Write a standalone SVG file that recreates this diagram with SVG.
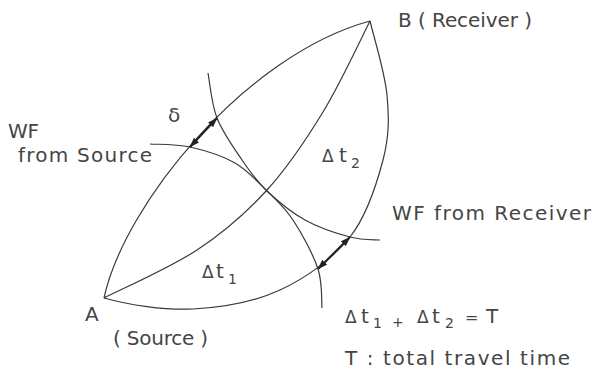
<svg xmlns="http://www.w3.org/2000/svg" width="594" height="369" viewBox="0 0 594 369">
<style>
.ray{fill:none;stroke:#3a3a3a;stroke-width:1.2}
.wf{fill:none;stroke:#3a3a3a;stroke-width:1.2}
.dl{fill:none;stroke:#222;stroke-width:2;marker-start:url(#ah);marker-end:url(#ah)}
text{font-family:"DejaVu Sans","Liberation Sans",sans-serif;font-size:20px;fill:#454545}
.sub{font-size:14px}
.dt{font-size:17px}
</style>
<defs>
<marker id="ah" viewBox="0 0 10 8" refX="9.5" refY="4" markerWidth="10" markerHeight="8" markerUnits="userSpaceOnUse" orient="auto-start-reverse">
<path d="M0,0.5 L10,4 L0,7.5 z" fill="#222"/>
</marker>
</defs>
<rect width="594" height="369" fill="#fff"/>
<g id="rays">
<path id="ray-upper" class="ray" d="M104,298 C124,205 245,55 370,21"/>
<path id="ray-middle" class="ray" d="M104,298 C119.5,290 169.8,268 197,250 C224.2,232 246,213 267,190 C288,167 305.8,140.2 323,112 C340.2,83.8 362.2,36.2 370,21"/>
<path id="ray-lower" class="ray" d="M104,298 C129,305 163.7,310.3 193,309 C222.3,307.7 253.8,302 280,290 C306.2,278 332.8,258.7 350,237 C367.2,215.3 376.8,183.7 383,160 C389.2,136.3 389.2,118.2 387,95 C384.8,71.8 372.8,33.3 370,21"/>
</g>
<g id="wavefronts">
<path id="wf-source" class="wf" d="M150,144 C156.7,144.5 175.8,143.8 190,147 C204.2,150.2 222.2,155.7 235,163 C247.8,170.3 257.3,181.5 267,191 C276.7,200.5 284.5,207.2 293,220 C301.5,232.8 313.2,254.3 318,269 C322.8,283.7 321.3,301.5 322,308"/>
<path id="wf-receiver" class="wf" d="M208,73 C209.5,80.5 211.3,103.5 217,118 C222.7,132.5 233.7,147.8 242,160 C250.3,172.2 256.5,181 267,191 C277.5,201 291.2,212.3 305,220 C318.8,227.7 337.5,233.7 350,237 C362.5,240.3 375,239.5 380,240"/>
</g>
<g id="connectors">
<line class="dl" x1="190" y1="147" x2="217" y2="118"/>
<line class="dl" x1="318" y1="269" x2="350" y2="237"/>
</g>
<g id="labels">
<text id="lbl-B" x="398" y="27" textLength="134" lengthAdjust="spacing">B ( Receiver )</text>
<text id="lbl-delta" x="168" y="122">δ</text>
<text id="lbl-wf1" x="8" y="138" textLength="31" lengthAdjust="spacing">WF</text>
<text id="lbl-wf2" x="18" y="162" textLength="134" lengthAdjust="spacing">from Source</text>
<text id="lbl-dt2"><tspan class="dt" x="322" y="162">Δ</tspan><tspan x="339" y="162">t</tspan><tspan class="sub" x="351" y="168">2</tspan></text>
<text id="lbl-dt1"><tspan class="dt" x="202" y="278">Δ</tspan><tspan x="216" y="278">t</tspan><tspan class="sub" x="228" y="284">1</tspan></text>
<text id="lbl-wfr" x="392" y="220" textLength="199" lengthAdjust="spacing">WF from Receiver</text>
<text id="lbl-A" x="85" y="321">A</text>
<text id="lbl-src" x="113" y="345" textLength="95" lengthAdjust="spacing">( Source )</text>
<text id="lbl-eq"><tspan class="dt" x="345" y="323">Δ</tspan><tspan x="361" y="323">t</tspan><tspan class="sub" x="373" y="328">1</tspan><tspan class="sub" x="392" y="327">+</tspan><tspan class="dt" x="417" y="323">Δ</tspan><tspan x="432" y="323">t</tspan><tspan class="sub" x="445" y="328">2</tspan><tspan x="465" y="323" font-size="16">=</tspan><tspan x="486" y="323">T</tspan></text>
<text id="lbl-T" x="345" y="365" textLength="225" lengthAdjust="spacing">T : total travel time</text>
</g>
</svg>
